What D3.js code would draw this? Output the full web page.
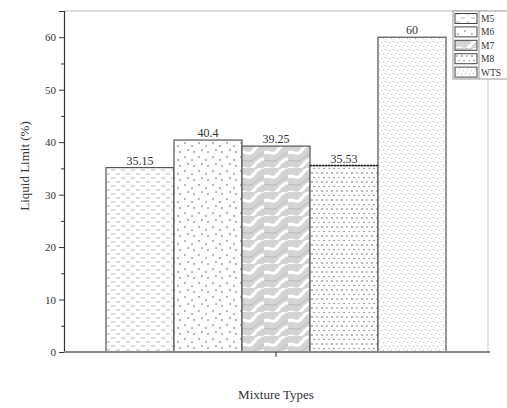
<!DOCTYPE html>
<html><head><meta charset="utf-8">
<script src="https://cdn.jsdelivr.net/npm/d3@7"></script>
<style>
body{margin:0;background:#fff;}
text{font-family:"Liberation Serif","Times New Roman",serif;fill:#333;}
</style></head>
<body><svg id="c" width="507" height="408"></svg>
<script>
const categories = ["M5","M6","M7","M8","WTS"];
const values = [35.15, 40.4, 39.25, 35.53, 60];
const valueLabels = ["35.15","40.4","39.25","35.53","60"];
const yTicks = [0,10,20,30,40,50,60];
const yMinorTicks = [5,15,25,35,45,55,65];

const svg = d3.select("#c");
const L=64, R=488, T=11, B=352;
const x = d3.scaleBand().domain(categories).range([106,446]).padding(0);
const y = d3.scaleLinear().domain([0,65]).range([B,T]);

const defs = svg.append("defs");
// M5: horizontal dashes
let p = defs.append("pattern").attr("id","pM5").attr("patternUnits","userSpaceOnUse").attr("width",10).attr("height",8);
p.append("rect").attr("width",10).attr("height",8).attr("fill","#fff");
p.append("line").attr("x1",1).attr("x2",5).attr("y1",2).attr("y2",2).attr("stroke","#b5b5b5").attr("stroke-width",1);
p.append("line").attr("x1",6).attr("x2",10).attr("y1",6).attr("y2",6).attr("stroke","#b5b5b5").attr("stroke-width",1);
// M6: dots
p = defs.append("pattern").attr("id","pM6").attr("patternUnits","userSpaceOnUse").attr("width",14).attr("height",14);
p.append("rect").attr("width",14).attr("height",14).attr("fill","#fff");
[[3,3],[10,6],[6,10],[12,12]].forEach(d=>p.append("circle").attr("cx",d[0]).attr("cy",d[1]).attr("r",1.2).attr("fill","#bbb"));
// M7: wavy grey
p = defs.append("pattern").attr("id","pM7").attr("patternUnits","userSpaceOnUse").attr("width",24).attr("height",24);
p.append("rect").attr("width",24).attr("height",24).attr("fill","#d4d4d4");
p.append("path").attr("d","M-2,10 C4,4 8,14 14,6 S22,0 26,-2").attr("stroke","#fff").attr("stroke-width",3).attr("fill","none");
p.append("path").attr("d","M-2,26 C4,20 8,30 14,22 S22,16 26,14").attr("stroke","#fff").attr("stroke-width",3).attr("fill","none");
p.append("path").attr("d","M-2,18 C4,14 8,20 14,15 S22,10 26,8").attr("stroke","#bbb").attr("stroke-width",1).attr("fill","none");
// M8: dense dots/dashes
p = defs.append("pattern").attr("id","pM8").attr("patternUnits","userSpaceOnUse").attr("width",10).attr("height",9);
p.append("rect").attr("width",10).attr("height",9).attr("fill","#fff");
p.append("line").attr("x1",1).attr("x2",3).attr("y1",2).attr("y2",2).attr("stroke","#666").attr("stroke-width",1);
p.append("line").attr("x1",6).attr("x2",8).attr("y1",2).attr("y2",2).attr("stroke","#888").attr("stroke-width",1);
p.append("circle").attr("cx",4).attr("cy",6.5).attr("r",0.8).attr("fill","#777");
p.append("circle").attr("cx",9).attr("cy",6.5).attr("r",0.8).attr("fill","#999");
// WTS: fine speckle
p = defs.append("pattern").attr("id","pWTS").attr("patternUnits","userSpaceOnUse").attr("width",8).attr("height",8);
p.append("rect").attr("width",8).attr("height",8).attr("fill","#fff");
[[1,1],[5,2],[3,5],[7,6],[2,7.5]].forEach(d=>p.append("rect").attr("x",d[0]).attr("y",d[1]).attr("width",1).attr("height",1).attr("fill","#bbb"));

// frame
svg.append("line").attr("x1",L).attr("x2",R).attr("y1",T).attr("y2",T).attr("stroke","#bbb");
svg.append("line").attr("x1",R).attr("x2",R).attr("y1",T).attr("y2",B).attr("stroke","#ccc");

// bars
svg.selectAll("rect.bar").data(categories).enter().append("rect").attr("class","bar")
  .attr("x",d=>x(d)).attr("width",x.bandwidth())
  .attr("y",(d,i)=>y(values[i])).attr("height",(d,i)=>B-y(values[i]))
  .attr("fill",d=>"url(#p"+d+")").attr("stroke","#555").attr("stroke-width",1.2);
// M8 dotted top
svg.append("line").attr("x1",x("M8")).attr("x2",x("M8")+x.bandwidth()).attr("y1",y(values[3])).attr("y2",y(values[3]))
  .attr("stroke","#222").attr("stroke-width",1.5).attr("stroke-dasharray","2,1");

svg.selectAll("text.val").data(categories).enter().append("text").attr("class","val")
  .attr("x",d=>x(d)+x.bandwidth()/2).attr("y",(d,i)=>y(values[i])-3)
  .attr("text-anchor","middle").attr("font-size",12).text((d,i)=>valueLabels[i]);

// y axis
const ya = svg.append("g").attr("transform",`translate(${L},0)`)
  .call(d3.axisLeft(y).tickValues(yTicks).tickSize(5).tickPadding(3));
ya.select(".domain").attr("stroke","#333").attr("stroke-width",1.2);
ya.selectAll(".tick line").attr("stroke","#333");
ya.selectAll(".tick text").attr("font-size",11).attr("font-family","Liberation Serif").attr("fill","#444");
svg.append("g").attr("transform",`translate(${L},0)`)
  .call(d3.axisLeft(y).tickValues(yMinorTicks).tickSize(3).tickFormat(""))
  .call(g=>g.select(".domain").remove()).selectAll("line").attr("stroke","#333");

// x axis
svg.append("line").attr("x1",L).attr("x2",R+2).attr("y1",B).attr("y2",B).attr("stroke","#888").attr("stroke-width",2);
svg.append("line").attr("x1",(L+R)/2).attr("x2",(L+R)/2).attr("y1",B).attr("y2",B+5).attr("stroke","#333");

// titles
svg.append("text").attr("x",(L+R)/2).attr("y",399).attr("text-anchor","middle").attr("font-size",13).text("Mixture Types");
svg.append("text").attr("transform",`translate(29,166) rotate(-90)`).attr("text-anchor","middle").attr("font-size",13).text("Liquid Limit (%)");

// legend
const lg = svg.append("g");
lg.append("rect").attr("x",453).attr("y",11).attr("width",60).attr("height",68).attr("fill","#fff").attr("stroke","#999");
categories.forEach((c,i)=>{
  const yy = 12 + i*13.4;
  lg.append("rect").attr("x",455).attr("y",yy+1.5).attr("width",22).attr("height",10).attr("fill","url(#p"+c+")").attr("stroke","#444").attr("stroke-width",1);
  lg.append("text").attr("x",481).attr("y",yy+10).attr("font-size",9.5).text(c);
});
lg.append("line").attr("x1",479).attr("x2",479).attr("y1",11).attr("y2",79).attr("stroke","#999");
</script></body></html>
